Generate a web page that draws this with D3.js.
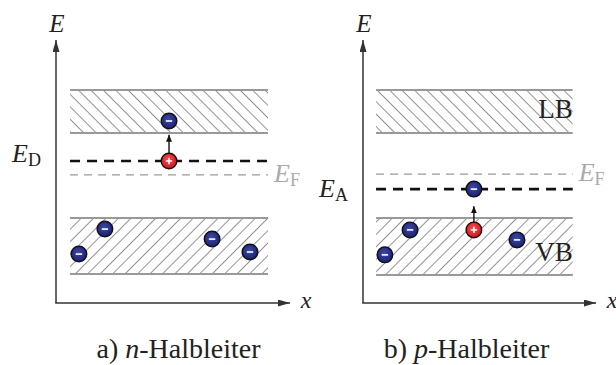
<!DOCTYPE html>
<html lang="de">
<head>
  <meta charset="UTF-8">
  <title>n- und p-Halbleiter</title>
  <script src="https://d3js.org/d3.v7.min.js"></script>
  <style>
    body { margin: 0; background: #fff; }
    svg { display: block; font-family: "Liberation Serif", "DejaVu Serif", serif; }
    .band-edge { stroke: #999; stroke-width: 2; }
    .axis-line { stroke: #333; stroke-width: 1.5; }
  </style>
</head>
<body>
  <svg width="616" height="365"></svg>

  <script>
    const width = 616, height = 365;
    const svg = d3.select("svg");

    // energy levels in arbitrary units (0..10), x in 0..10
    const panels = ["a", "b"];
    const captions = [["a) ", "n", "-Halbleiter"], ["b) ", "p", "-Halbleiter"]];
    const upperBand = [[6.46, 8.1], [6.46, 8.1]];      // LB [bottom, top]
    const lowerBand = [[1.1, 3.23], [1.06, 3.23]];     // VB [bottom, top]
    const bandX = [[0.6, 9.06], [0.56, 9.0]];
    const impurityLevel = [5.4, 4.33];                 // E_D, E_A
    const fermiLevel = [4.87, 4.9];
    const impurityLabel = ["D", "A"];

    // particles: [x, E, charge]
    const particlesA = [[4.83, 6.92, "-"], [4.83, 5.4, "+"], [0.98, 1.86, "-"], [2.09, 2.81, "-"], [6.67, 2.43, "-"], [8.29, 1.94, "-"]];
    const particlesB = [[4.76, 4.33, "-"], [4.76, 2.78, "+"], [0.94, 1.83, "-"], [2.02, 2.78, "-"], [6.61, 2.40, "-"]];
    const particles = [particlesA, particlesB];
    // transition arrows: [x, E from, E to]
    const arrows = [[4.83, 5.69, 6.4], [4.76, 3.08, 3.68]];

    const originX = [56, 363], axisEnd = [290, 596];
    const y = d3.scaleLinear().domain([0, 10]).range([303, 40]);

    const defs = svg.append("defs");
    [["hatchBack", -45], ["hatchFwd", 45]].forEach(([id, ang]) => {
      const p = defs.append("pattern").attr("id", id)
        .attr("patternUnits", "userSpaceOnUse").attr("width", 8.8).attr("height", 8.8)
        .attr("patternTransform", `rotate(${ang})`);
      p.append("line").attr("x1", 0).attr("y1", 0).attr("x2", 0).attr("y2", 8.8)
        .attr("stroke", "#666").attr("stroke-width", 1.4);
    });
    const gradBlue = defs.append("radialGradient").attr("id", "gBlue").attr("cx", "45%").attr("cy", "40%").attr("r", "60%");
    gradBlue.append("stop").attr("offset", "0%").attr("stop-color", "#3b48b0");
    gradBlue.append("stop").attr("offset", "100%").attr("stop-color", "#1c2070");
    const gradRed = defs.append("radialGradient").attr("id", "gRed").attr("cx", "45%").attr("cy", "40%").attr("r", "60%");
    gradRed.append("stop").attr("offset", "0%").attr("stop-color", "#ff4a4a");
    gradRed.append("stop").attr("offset", "100%").attr("stop-color", "#d8121d");
    [["arrAxis", "#333", 12, 7], ["arrSmall", "#111", 7, 6]].forEach(([id, col, l, w]) => {
      defs.append("marker").attr("id", id).attr("viewBox", `0 0 ${l} ${w}`)
        .attr("refX", l).attr("refY", w / 2).attr("markerWidth", l).attr("markerHeight", w)
        .attr("markerUnits", "userSpaceOnUse").attr("orient", "auto")
        .append("path").attr("d", `M0,0L${l},${w / 2}L0,${w}Z`).attr("fill", col);
    });

    panels.forEach((key, i) => {
      const x = d3.scaleLinear().domain([0, 10]).range([originX[i], axisEnd[i]]);
      const g = svg.append("g");

      // bands
      [[upperBand[i], "hatchBack"], [lowerBand[i], "hatchFwd"]].forEach(([b, pat]) => {
        g.append("rect").attr("x", x(bandX[i][0])).attr("width", x(bandX[i][1]) - x(bandX[i][0]))
          .attr("y", y(b[1])).attr("height", y(b[0]) - y(b[1])).attr("fill", `url(#${pat})`);
        b.forEach(e => g.append("line").attr("class", "band-edge")
          .attr("x1", x(bandX[i][0])).attr("x2", x(bandX[i][1])).attr("y1", y(e)).attr("y2", y(e)));
      });

      // Fermi level and impurity level
      g.append("line").attr("x1", x(bandX[i][0])).attr("x2", x(bandX[i][1]))
        .attr("y1", y(fermiLevel[i])).attr("y2", y(fermiLevel[i]))
        .attr("stroke", "#999").attr("stroke-width", 1.3).attr("stroke-dasharray", "8,6");
      g.append("line").attr("x1", x(bandX[i][0])).attr("x2", x(bandX[i][1]))
        .attr("y1", y(impurityLevel[i])).attr("y2", y(impurityLevel[i]))
        .attr("stroke", "#111").attr("stroke-width", 2.6).attr("stroke-dasharray", "10,7");

      // axes
      g.append("line").attr("class", "axis-line").attr("x1", originX[i]).attr("y1", y(0))
        .attr("x2", originX[i]).attr("y2", y(10)).attr("marker-end", "url(#arrAxis)");
      g.append("line").attr("class", "axis-line").attr("x1", originX[i] - 0.75).attr("y1", y(0))
        .attr("x2", axisEnd[i]).attr("y2", y(0)).attr("marker-end", "url(#arrAxis)");

      // labels
      g.append("text").attr("x", originX[i] + 1).attr("y", 32).attr("font-size", 25)
        .attr("font-style", "italic").attr("text-anchor", "middle").attr("fill", "#222").text("E");
      g.append("text").attr("x", axisEnd[i] + 16).attr("y", y(0) + 5).attr("font-size", 24)
        .attr("font-style", "italic").attr("text-anchor", "middle").attr("fill", "#222").text("x");

      const imp = g.append("text").attr("x", originX[i] - 44).attr("y", [162, 197][i])
        .attr("font-size", 26).attr("fill", "#222");
      imp.append("tspan").attr("font-style", "italic").text("E");
      imp.append("tspan").attr("font-size", 18).attr("dy", 4).text(impurityLabel[i]);

      const ef = g.append("text").attr("x", x(bandX[i][1]) + 6).attr("y", y(fermiLevel[i]) + 7)
        .attr("font-size", 26).attr("fill", "#aaa");
      ef.append("tspan").attr("font-style", "italic").text("E");
      ef.append("tspan").attr("font-size", 18).attr("dy", 4).text("F");

      if (i === 1) {
        g.append("text").attr("x", x(bandX[i][1])).attr("y", y(upperBand[i][0]) - 15)
          .attr("font-size", 27).attr("text-anchor", "end").attr("fill", "#222").text("LB");
        g.append("text").attr("x", x(bandX[i][1])).attr("y", y(lowerBand[i][0]) - 14)
          .attr("font-size", 27).attr("text-anchor", "end").attr("fill", "#222").text("VB");
      }

      // transition arrow
      const a = arrows[i];
      g.append("line").attr("x1", x(a[0])).attr("x2", x(a[0])).attr("y1", y(a[1])).attr("y2", y(a[2]))
        .attr("stroke", "#111").attr("stroke-width", 1.4).attr("marker-end", "url(#arrSmall)");

      // particles
      const pg = g.selectAll("g.particle").data(particles[i]).enter().append("g")
        .attr("class", "particle").attr("transform", d => `translate(${x(d[0])},${y(d[1])})`);
      pg.append("circle").attr("r", 7.8)
        .attr("fill", d => d[2] === "+" ? "url(#gRed)" : "url(#gBlue)")
        .attr("stroke", "#111").attr("stroke-width", 1.4);
      pg.append("line").attr("x1", -3.2).attr("x2", 3.2).attr("y1", 0).attr("y2", 0)
        .attr("stroke", "#fff").attr("stroke-width", 1.6);
      pg.filter(d => d[2] === "+").append("line").attr("x1", 0).attr("x2", 0).attr("y1", -3.2).attr("y2", 3.2)
        .attr("stroke", "#fff").attr("stroke-width", 1.6);

      // caption
      const cap = svg.append("text").attr("x", [178.5, 466.5][i]).attr("y", 358)
        .attr("font-size", 28).attr("text-anchor", "middle").attr("fill", "#222");
      cap.append("tspan").text(captions[i][0]);
      cap.append("tspan").attr("font-style", "italic").text(captions[i][1]);
      cap.append("tspan").text(captions[i][2]);
    });
  </script>
</body>
</html>
